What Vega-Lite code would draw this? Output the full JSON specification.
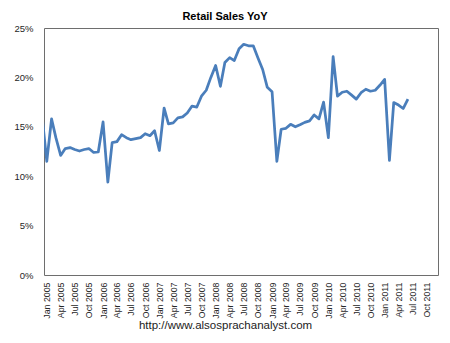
{
  "$schema": "https://vega.github.io/schema/vega-lite/v6.json",
  "autosize": {"type": "none"},
  "width": 394,
  "height": 247,
  "padding": {"left": 44, "top": 28, "right": 12, "bottom": 68},
  "background": "white",
  "title": {
    "text": "Retail Sales YoY",
    "font": "Liberation Sans",
    "fontSize": 11,
    "fontWeight": "bold",
    "color": "#000000",
    "anchor": "middle",
    "dx": -16,
    "offset": 1
  },
  "config": {
    "view": {"stroke": "#6e6e6e", "strokeWidth": 1},
    "axis": {"grid": false, "ticks": false, "domain": false, "labelFont": "Liberation Sans", "labelColor": "#262626", "titleFont": "Liberation Sans"}
  },
  "data": {
    "values": [
      {"date": "2004/12/01", "yoy": 16.2},
      {"date": "2005/01/01", "yoy": 11.5},
      {"date": "2005/02/01", "yoy": 15.8},
      {"date": "2005/03/01", "yoy": 13.9},
      {"date": "2005/04/01", "yoy": 12.1},
      {"date": "2005/05/01", "yoy": 12.8},
      {"date": "2005/06/01", "yoy": 12.9},
      {"date": "2005/07/01", "yoy": 12.7},
      {"date": "2005/08/01", "yoy": 12.55},
      {"date": "2005/09/01", "yoy": 12.7},
      {"date": "2005/10/01", "yoy": 12.8},
      {"date": "2005/11/01", "yoy": 12.4},
      {"date": "2005/12/01", "yoy": 12.45},
      {"date": "2006/01/01", "yoy": 15.5},
      {"date": "2006/02/01", "yoy": 9.4},
      {"date": "2006/03/01", "yoy": 13.4},
      {"date": "2006/04/01", "yoy": 13.5},
      {"date": "2006/05/01", "yoy": 14.2},
      {"date": "2006/06/01", "yoy": 13.9},
      {"date": "2006/07/01", "yoy": 13.7},
      {"date": "2006/08/01", "yoy": 13.8},
      {"date": "2006/09/01", "yoy": 13.9},
      {"date": "2006/10/01", "yoy": 14.3},
      {"date": "2006/11/01", "yoy": 14.1},
      {"date": "2006/12/01", "yoy": 14.6},
      {"date": "2007/01/01", "yoy": 12.6},
      {"date": "2007/02/01", "yoy": 16.9},
      {"date": "2007/03/01", "yoy": 15.3},
      {"date": "2007/04/01", "yoy": 15.4},
      {"date": "2007/05/01", "yoy": 15.9},
      {"date": "2007/06/01", "yoy": 16.0},
      {"date": "2007/07/01", "yoy": 16.4},
      {"date": "2007/08/01", "yoy": 17.1},
      {"date": "2007/09/01", "yoy": 17.0},
      {"date": "2007/10/01", "yoy": 18.1},
      {"date": "2007/11/01", "yoy": 18.7},
      {"date": "2007/12/01", "yoy": 20.0},
      {"date": "2008/01/01", "yoy": 21.2},
      {"date": "2008/02/01", "yoy": 19.1},
      {"date": "2008/03/01", "yoy": 21.5},
      {"date": "2008/04/01", "yoy": 22.0},
      {"date": "2008/05/01", "yoy": 21.7},
      {"date": "2008/06/01", "yoy": 22.9},
      {"date": "2008/07/01", "yoy": 23.35},
      {"date": "2008/08/01", "yoy": 23.2},
      {"date": "2008/09/01", "yoy": 23.2},
      {"date": "2008/10/01", "yoy": 22.0},
      {"date": "2008/11/01", "yoy": 20.8},
      {"date": "2008/12/01", "yoy": 19.0},
      {"date": "2009/01/01", "yoy": 18.55},
      {"date": "2009/02/01", "yoy": 11.5},
      {"date": "2009/03/01", "yoy": 14.75},
      {"date": "2009/04/01", "yoy": 14.85},
      {"date": "2009/05/01", "yoy": 15.25},
      {"date": "2009/06/01", "yoy": 15.0},
      {"date": "2009/07/01", "yoy": 15.2},
      {"date": "2009/08/01", "yoy": 15.45},
      {"date": "2009/09/01", "yoy": 15.6},
      {"date": "2009/10/01", "yoy": 16.2},
      {"date": "2009/11/01", "yoy": 15.8},
      {"date": "2009/12/01", "yoy": 17.5},
      {"date": "2010/01/01", "yoy": 13.9},
      {"date": "2010/02/01", "yoy": 22.1},
      {"date": "2010/03/01", "yoy": 18.1},
      {"date": "2010/04/01", "yoy": 18.5},
      {"date": "2010/05/01", "yoy": 18.6},
      {"date": "2010/06/01", "yoy": 18.2},
      {"date": "2010/07/01", "yoy": 17.8},
      {"date": "2010/08/01", "yoy": 18.45},
      {"date": "2010/09/01", "yoy": 18.8},
      {"date": "2010/10/01", "yoy": 18.6},
      {"date": "2010/11/01", "yoy": 18.7},
      {"date": "2010/12/01", "yoy": 19.2},
      {"date": "2011/01/01", "yoy": 19.8},
      {"date": "2011/02/01", "yoy": 11.6},
      {"date": "2011/03/01", "yoy": 17.45},
      {"date": "2011/04/01", "yoy": 17.2},
      {"date": "2011/05/01", "yoy": 16.85},
      {"date": "2011/06/01", "yoy": 17.8}
    ]
  },
  "mark": {"type": "line", "color": "#4a7ebb", "strokeWidth": 2.75, "clip": true, "strokeJoin": "round"},
  "encoding": {
    "x": {
      "field": "date",
      "type": "temporal",
      "scale": {"domain": [{"year": 2004, "month": 12, "date": 14}, {"year": 2011, "month": 12, "date": 13}]},
      "axis": {
        "values": [
          {"year": 2005, "month": 1, "date": 1}, {"year": 2005, "month": 4, "date": 1}, {"year": 2005, "month": 7, "date": 1}, {"year": 2005, "month": 10, "date": 1},
          {"year": 2006, "month": 1, "date": 1}, {"year": 2006, "month": 4, "date": 1}, {"year": 2006, "month": 7, "date": 1}, {"year": 2006, "month": 10, "date": 1},
          {"year": 2007, "month": 1, "date": 1}, {"year": 2007, "month": 4, "date": 1}, {"year": 2007, "month": 7, "date": 1}, {"year": 2007, "month": 10, "date": 1},
          {"year": 2008, "month": 1, "date": 1}, {"year": 2008, "month": 4, "date": 1}, {"year": 2008, "month": 7, "date": 1}, {"year": 2008, "month": 10, "date": 1},
          {"year": 2009, "month": 1, "date": 1}, {"year": 2009, "month": 4, "date": 1}, {"year": 2009, "month": 7, "date": 1}, {"year": 2009, "month": 10, "date": 1},
          {"year": 2010, "month": 1, "date": 1}, {"year": 2010, "month": 4, "date": 1}, {"year": 2010, "month": 7, "date": 1}, {"year": 2010, "month": 10, "date": 1},
          {"year": 2011, "month": 1, "date": 1}, {"year": 2011, "month": 4, "date": 1}, {"year": 2011, "month": 7, "date": 1}, {"year": 2011, "month": 10, "date": 1}
        ],
        "format": "%b %Y",
        "labelAngle": 270,
        "labelFontSize": 8.8,
        "labelPadding": 7,
        "labelOverlap": false,
        "labelBound": false,
        "labelFlush": false,
        "title": "http://www.alsosprachanalyst.com",
        "titleFontSize": 11.5,
        "titleFontWeight": "normal",
        "titleColor": "#222222",
        "titleX": 181,
        "titleY": 50,
        "titleAlign": "center",
        "titleBaseline": "middle"
      }
    },
    "y": {
      "field": "yoy",
      "type": "quantitative",
      "scale": {"domain": [0, 25], "nice": false},
      "axis": {
        "values": [0, 5, 10, 15, 20, 25],
        "labelExpr": "datum.value + '%'",
        "labelFontSize": 9.5,
        "labelPadding": 11,
        "title": null
      }
    }
  }
}
